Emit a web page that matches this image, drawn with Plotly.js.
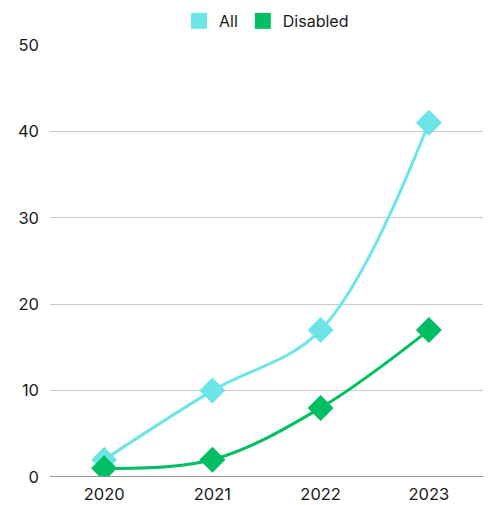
<!DOCTYPE html>
<html><head><meta charset="utf-8">
<script src="https://cdn.plot.ly/plotly-3.0.1.min.js"></script>
<style>body{margin:0}#c{width:489px;height:505px}</style>
</head><body><div id="c"></div>
<script>
const years = ['2020','2021','2022','2023'];
const allValues = [2, 10, 17, 41];
const disabledValues = [1, 2, 8, 17];
const seriesNames = ['All','Disabled'];
const colors = ['#6ce5e8','#00bf63'];

const mk = (y, i) => ({
  x: years, y: y, type: 'scatter', mode: 'lines+markers', name: seriesNames[i],
  line: {shape: 'spline', color: colors[i], width: 3, smoothing: 1},
  marker: {symbol: 'diamond', size: 20, color: colors[i]},
  showlegend: false, legendgroup: seriesNames[i]
});
const leg = (i) => ({
  x: [null], y: [null], type: 'scatter', mode: 'markers', name: seriesNames[i],
  marker: {symbol: 'square', size: 20, color: colors[i]}, legendgroup: seriesNames[i]
});
const data = [mk(allValues,0), mk(disabledValues,1), leg(0), leg(1)];
const layout = {
  width: 489, height: 505,
  margin: {l: 50, r: 6, t: 45, b: 28, autoexpand: false},
  paper_bgcolor: '#fff', plot_bgcolor: '#fff',
  font: {family: 'Inter, sans-serif', size: 16, color: '#1a1a1a'},
  showlegend: true,
  legend: {orientation: 'h', x: 0.5, xanchor: 'center', y: 1.095, yanchor: 'top', font: {size: 16}, itemsizing: 'trace'},
  xaxis: {type: 'category', range: [-0.5, 3.5], showgrid: false, zeroline: false, showline: false, ticks: '', tickfont: {size: 16.5}, ticklabelstandoff: 5},
  yaxis: {range: [0, 50], dtick: 10, showgrid: true, gridcolor: '#cccccc', zeroline: false,
          showline: false, ticks: '', tickfont: {size: 16.5}, ticklabelstandoff: 10},
  shapes: [{type: 'line', xref: 'paper', yref: 'y', x0: 0, x1: 1, y0: 0, y1: 0, line: {color: '#999', width: 2}}]
};
Plotly.newPlot('c', data, layout, {displayModeBar: false});
</script></body></html>
